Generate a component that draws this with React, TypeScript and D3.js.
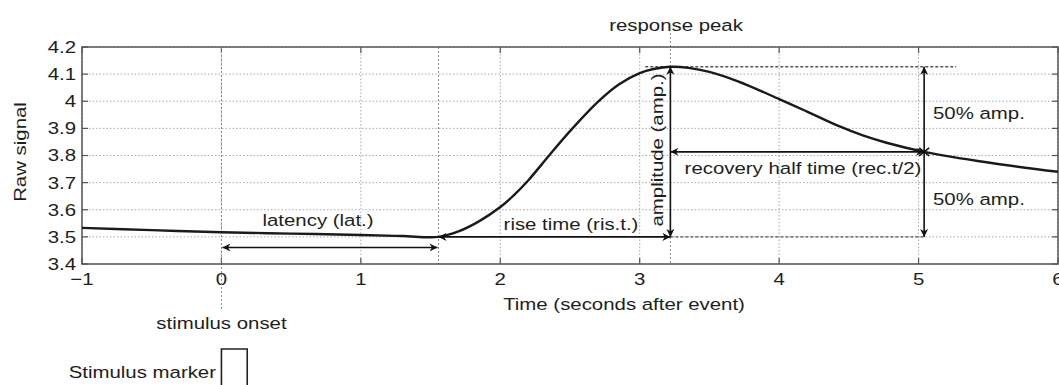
import React from "react";
import * as d3 from "d3";

const timeTicks = [-1, 0, 1, 2, 3, 4, 5, 6];
const timeTickLabels = ["\u22121", "0", "1", "2", "3", "4", "5", "6"];
const signalTicks = [3.4, 3.5, 3.6, 3.7, 3.8, 3.9, 4.0, 4.1, 4.2];
const signalTickLabels = ["3.4", "3.5", "3.6", "3.7", "3.8", "3.9", "4", "4.1", "4.2"];

const curveTime = [-1, -0.5, 0, 0.5, 1, 1.3, 1.557, 1.7, 1.85, 2.0, 2.1, 2.2, 2.35, 2.5, 2.7, 2.85, 3.0, 3.1, 3.22, 3.35, 3.5, 3.7, 4.0, 4.2, 4.43, 4.6, 4.77, 5.04, 5.5, 6.0];
const curveSignal = [3.533, 3.525, 3.517, 3.512, 3.507, 3.503, 3.5, 3.52, 3.558, 3.61, 3.655, 3.708, 3.8, 3.89, 3.998, 4.062, 4.104, 4.119, 4.127, 4.123, 4.108, 4.074, 4.008, 3.962, 3.908, 3.874, 3.847, 3.8135, 3.774, 3.74];

const onsetTime = 0;
const riseStartTime = 1.557;
const peakTime = 3.22;
const peakValue = 4.127;
const baseValue = 3.5;
const recoveryTime = 5.04;
const halfValue = (peakValue + baseValue) / 2;
const latencyArrowValue = 3.461;
const markerStart = 0;
const markerEnd = 0.185;

const W = 1059;
const H = 385;
const left = 82;
const right = 1058;
const top = 47;
const bottom = 264;

const FONT = "'Liberation Sans', Arial, Helvetica, sans-serif";
const FS = 17;
const SX = 1.2;

function Label(props: { x: number; y: number; text: string; anchor?: string; rotate?: number }) {
  const { x, y, text, anchor = "middle", rotate = 0 } = props;
  return (
    <text
      transform={`translate(${x},${y}) rotate(${rotate}) scale(${SX},1)`}
      textAnchor={anchor}
      dominantBaseline="central"
      fontFamily={FONT}
      fontSize={FS}
      fill="#1e1e1e"
    >
      {text}
    </text>
  );
}

export default function App() {
  const x = d3.scaleLinear().domain([-1, 6]).range([left, right]);
  const y = d3.scaleLinear().domain([3.4, 4.2]).range([bottom, top]);

  const line = d3
    .line<number>()
    .x((_, i) => x(curveTime[i]))
    .y((d) => y(d))
    .curve(d3.curveCatmullRom.alpha(0.5));

  const tickLen = 6;
  const arrow = "url(#ah)";

  return (
    <svg width={W} height={H} style={{ position: "absolute", left: 0, top: 0 }}>
      <defs>
        <marker id="ah" viewBox="0 0 10 10" refX="10" refY="5" markerWidth="11" markerHeight="8" markerUnits="userSpaceOnUse" orient="auto-start-reverse">
          <path d="M0,0 L10,5 L0,10 L3,5 Z" fill="#111" />
        </marker>
      </defs>
      <rect x={0} y={0} width={W} height={H} fill="#fff" />

      {/* grid */}
      {timeTicks.map((t) => (
        <line key={"gx" + t} x1={x(t)} x2={x(t)} y1={top} y2={bottom} stroke="#aaa" strokeWidth={1} strokeDasharray="1.5,2" />
      ))}
      {signalTicks.map((v) => (
        <line key={"gy" + v} x1={left} x2={right} y1={y(v)} y2={y(v)} stroke="#aaa" strokeWidth={1} strokeDasharray="1.5,2" />
      ))}

      {/* ticks inward all sides */}
      {timeTicks.map((t) => (
        <g key={"tx" + t}>
          <line x1={x(t)} x2={x(t)} y1={bottom} y2={bottom - tickLen} stroke="#555" strokeWidth={1.2} />
          <line x1={x(t)} x2={x(t)} y1={top} y2={top + tickLen} stroke="#555" strokeWidth={1.2} />
        </g>
      ))}
      {signalTicks.map((v) => (
        <g key={"ty" + v}>
          <line x1={left} x2={left + tickLen} y1={y(v)} y2={y(v)} stroke="#555" strokeWidth={1.2} />
          <line x1={right} x2={right - tickLen} y1={y(v)} y2={y(v)} stroke="#555" strokeWidth={1.2} />
        </g>
      ))}

      {/* tick labels */}
      {timeTicks.map((t, i) => (
        <Label key={"lx" + t} x={x(t)} y={bottom + 15} text={timeTickLabels[i]} />
      ))}
      {signalTicks.map((v, i) => (
        <Label key={"ly" + v} x={left - 6} y={y(v)} text={signalTickLabels[i]} anchor="end" />
      ))}

      {/* event dashed verticals */}
      <line x1={x(onsetTime)} x2={x(onsetTime)} y1={top} y2={bottom + 46} stroke="#888" strokeWidth={1} strokeDasharray="2,2" />
      <line x1={x(riseStartTime)} x2={x(riseStartTime)} y1={top} y2={bottom} stroke="#888" strokeWidth={1} strokeDasharray="2,2" />
      <line x1={x(peakTime)} x2={x(peakTime)} y1={top - 14} y2={bottom} stroke="#888" strokeWidth={1} strokeDasharray="2,2" />

      {/* darker dashed reference levels */}
      <line x1={x(3.04)} x2={x(5.27)} y1={y(peakValue)} y2={y(peakValue)} stroke="#555" strokeWidth={1.4} strokeDasharray="3,2" />
      <line x1={x(peakTime)} x2={x(recoveryTime)} y1={y(baseValue)} y2={y(baseValue)} stroke="#555" strokeWidth={1.4} strokeDasharray="3,2" />

      {/* axes box */}
      <rect x={left} y={top} width={right - left} height={bottom - top} fill="none" stroke="#555" strokeWidth={1.5} />

      {/* curve */}
      <path d={line(curveSignal) || ""} fill="none" stroke="#1a1a1a" strokeWidth={2.4} />

      {/* arrows */}
      <line x1={x(onsetTime) + 1} x2={x(riseStartTime) - 1} y1={y(latencyArrowValue)} y2={y(latencyArrowValue)} stroke="#111" strokeWidth={1.6} markerStart={arrow} markerEnd={arrow} />
      <line x1={x(riseStartTime)} x2={x(peakTime)} y1={y(baseValue)} y2={y(baseValue)} stroke="#111" strokeWidth={1.8} markerStart={arrow} markerEnd={arrow} />
      <line x1={x(peakTime)} x2={x(peakTime)} y1={y(baseValue)} y2={y(peakValue)} stroke="#111" strokeWidth={1.6} markerStart={arrow} markerEnd={arrow} />
      <line x1={x(peakTime)} x2={x(recoveryTime)} y1={y(halfValue)} y2={y(halfValue)} stroke="#111" strokeWidth={1.6} markerStart={arrow} markerEnd={arrow} />
      <line x1={x(recoveryTime)} x2={x(recoveryTime)} y1={y(halfValue)} y2={y(peakValue)} stroke="#111" strokeWidth={1.6} markerEnd={arrow} />
      <line x1={x(recoveryTime)} x2={x(recoveryTime)} y1={y(halfValue)} y2={y(baseValue)} stroke="#111" strokeWidth={1.6} markerEnd={arrow} />
      {/* cross marker */}
      <g stroke="#111" strokeWidth={1.5}>
        <line x1={x(recoveryTime) - 5} x2={x(recoveryTime) + 5} y1={y(halfValue) - 4} y2={y(halfValue) + 4} />
        <line x1={x(recoveryTime) - 5} x2={x(recoveryTime) + 5} y1={y(halfValue) + 4} y2={y(halfValue) - 4} />
      </g>

      {/* annotations */}
      <Label x={318} y={220} text="latency (lat.)" />
      <Label x={571} y={224} text="rise time (ris.t.)" />
      <Label x={657} y={150} text="amplitude (amp.)" rotate={-90} />
      <Label x={803} y={168} text="recovery half time (rec.t/2)" />
      <Label x={933} y={113} text="50% amp." anchor="start" />
      <Label x={933} y={199} text="50% amp." anchor="start" />
      <Label x={676} y={25} text="response peak" />
      <Label x={x(onsetTime)} y={323} text="stimulus onset" />

      {/* axis titles */}
      <Label x={20} y={152} text="Raw signal" rotate={-90} />
      <Label x={624} y={304} text="Time (seconds after event)" />

      {/* stimulus marker */}
      <Label x={216} y={372} text="Stimulus marker" anchor="end" />
      <path
        d={`M${x(markerStart)},${H + 5} L${x(markerStart)},349 L${x(markerEnd)},349 L${x(markerEnd)},${H + 5}`}
        fill="none"
        stroke="#222"
        strokeWidth={1.6}
      />
    </svg>
  );
}
